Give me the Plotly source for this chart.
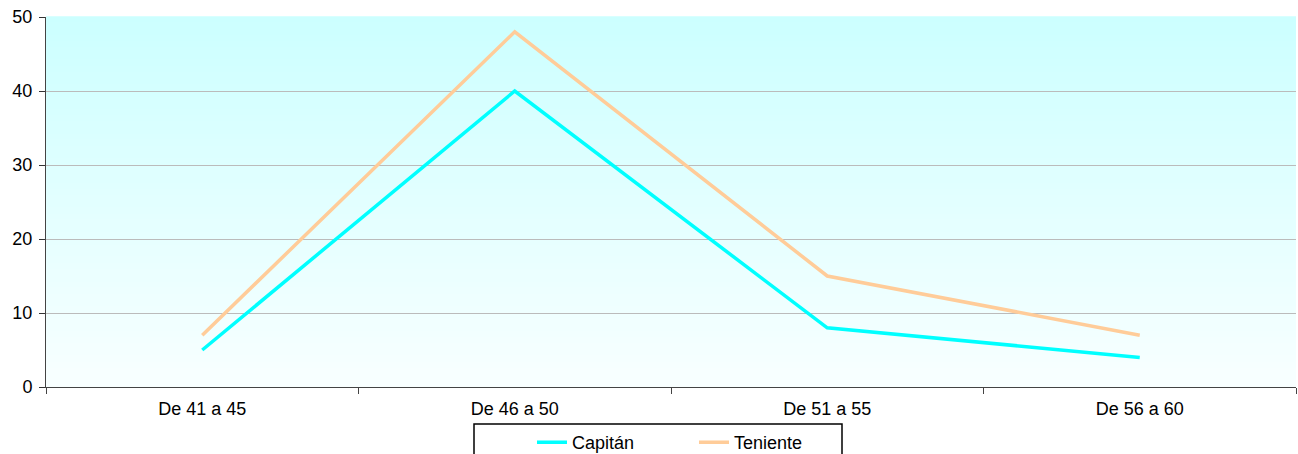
import plotly.graph_objects as go

categories = ["De 41 a 45", "De 46 a 50", "De 51 a 55", "De 56 a 60"]
capitan = [5, 40, 8, 4]
teniente = [7, 48, 15, 7]
y_ticks = [0, 10, 20, 30, 40, 50]

fig = go.Figure()
fig.add_trace(go.Scatter(x=categories, y=capitan, mode="lines", name="Capitán",
                         line=dict(color="#00FFFF", width=3.5)))
fig.add_trace(go.Scatter(x=categories, y=teniente, mode="lines", name="Teniente",
                         line=dict(color="#FFCC99", width=3.5)))

# gradient background
n = 60
top = (204, 255, 255)
bot = (248, 255, 255)
shapes = []
for i in range(n):
    t = i / (n - 1)
    c = tuple(round(top[k] + (bot[k] - top[k]) * t) for k in range(3))
    y1 = 1 - i / n
    y0 = 1 - (i + 1) / n
    shapes.append(dict(type="rect", xref="x domain", yref="y domain",
                       x0=0, x1=1, y0=y0, y1=y1 + 0.002, layer="below",
                       line=dict(width=0), fillcolor="rgb(%d,%d,%d)" % c))
# legend frame
shapes.append(dict(type="rect", xref="paper", yref="paper",
                   x0=0.3424, x1=0.6368, y0=-0.2, y1=-0.1,
                   line=dict(color="black", width=1.5), fillcolor="white", layer="below"))

fig.update_layout(
    width=1298, height=454,
    margin=dict(l=46, r=2, t=17, b=67),
    paper_bgcolor="white",
    plot_bgcolor="rgba(0,0,0,0)",
    font=dict(family="Liberation Sans, Arial", size=18, color="black"),
    shapes=shapes,
    showlegend=True,
    legend=dict(orientation="h", x=0.3888, xanchor="left",
                yref="container", y=0.066, yanchor="top",
                borderwidth=0, bgcolor="rgba(0,0,0,0)",
                font=dict(size=18), entrywidth=117, itemwidth=30),
    xaxis=dict(type="category", range=[-0.5, 3.5], tickson="boundaries",
               ticks="outside", ticklen=6, tickcolor="#444444",
               showline=True, linecolor="#444444", linewidth=1,
               ticklabelstandoff=5,
               showgrid=False, zeroline=False, automargin=False),
    yaxis=dict(range=[0, 50], tickvals=y_ticks, ticks="outside", ticklen=6,
               tickcolor="#333333", showline=True, linecolor="#444444", linewidth=1,
               ticklabelstandoff=3,
               showgrid=True, gridcolor="#BBBBBB", gridwidth=1, zeroline=False,
               automargin=False),
)
fig.write_html("out.html", config={"displayModeBar": False},
               post_script="document.body.style.margin='0';document.body.style.overflow='hidden';")
